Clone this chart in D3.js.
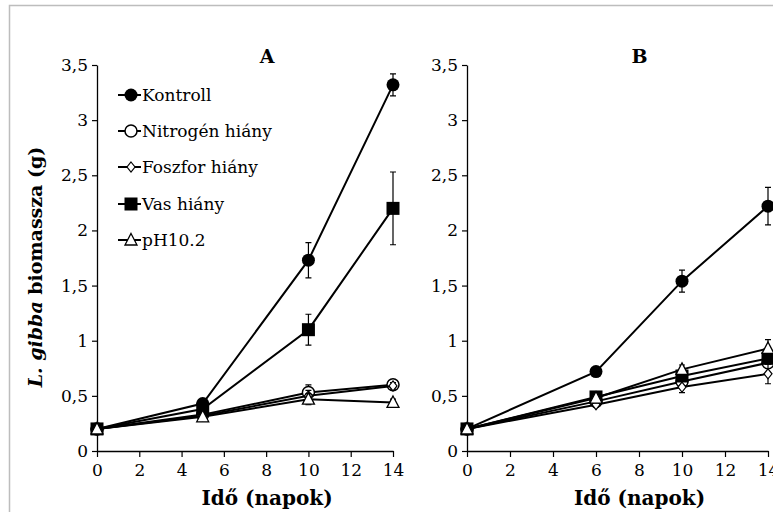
<!DOCTYPE html>
<html><head><meta charset="utf-8">
<script src="https://cdn.jsdelivr.net/npm/d3@7"></script>
<style>body{margin:0;background:#fff}svg{display:block}</style>
</head><body>
<script>
const seriesNames = ["Kontroll","Nitrogén hiány","Foszfor hiány","Vas hiány","pH10.2"];
const symbols = ["circleFill","circleOpen","diamondOpen","squareFill","triangleOpen"];
const daysA = [0,5,10,14];
const daysB = [0,6,10,14];
const valuesA = [
  [0.2,0.43,1.73,3.32],
  [0.2,0.33,0.53,0.60],
  [0.2,0.32,0.50,0.59],
  [0.2,0.38,1.10,2.20],
  [0.2,0.31,0.47,0.44]
];
const errorsA = [
  [0,0.03,0.16,0.10],
  [0,0.02,0.07,0.03],
  [0,0.02,0.05,0.03],
  [0,0.02,0.14,0.33],
  [0,0.02,0.05,0.03]
];
const valuesB = [
  [0.2,0.72,1.54,2.22],
  [0.2,0.45,0.63,0.80],
  [0.2,0.42,0.58,0.70],
  [0.2,0.49,0.68,0.84],
  [0.2,0.48,0.74,0.93]
];
const errorsB = [
  [0,0.02,0.10,0.17],
  [0,0.02,0.04,0.05],
  [0,0.02,0.05,0.09],
  [0,0.02,0.04,0.05],
  [0,0.02,0.04,0.08]
];
const xTicks = [0,2,4,6,8,10,12,14];
const yTicks = [0,0.5,1,1.5,2,2.5,3,3.5];
const panelTitles = ["A","B"];

const FONT = "DejaVu Serif";
const W=773,H=512;
const svg=d3.select("body").append("svg").attr("width",W).attr("height",H).style("font-family",FONT);
svg.append("path").attr("d","M9.5,"+H+"V5.5H"+W).attr("fill","none").attr("stroke","#bdbdbd").attr("stroke-width",1.5);

const fmt = d => String(d).replace(".",",");

function marker(g, type, x, y){
  if(type==="circleFill") g.append("circle").attr("cx",x).attr("cy",y).attr("r",6.5).attr("fill","#000");
  else if(type==="circleOpen") g.append("circle").attr("cx",x).attr("cy",y).attr("r",6).attr("fill","#fff").attr("stroke","#000").attr("stroke-width",1.5);
  else if(type==="diamondOpen") g.append("path").attr("d",`M${x},${y-5}L${x+4},${y}L${x},${y+5}L${x-4},${y}Z`).attr("fill","#fff").attr("stroke","#000").attr("stroke-width",1.2);
  else if(type==="squareFill") g.append("rect").attr("x",x-6.5).attr("y",y-6.5).attr("width",13).attr("height",13).attr("fill","#000");
  else if(type==="triangleOpen") g.append("path").attr("d",`M${x},${y-6.5}L${x+6},${y+5}L${x-6},${y+5}Z`).attr("fill","#fff").attr("stroke","#000").attr("stroke-width",1.3);
}

function panel(x0,x1,days,values,errors,title){
  const x=d3.scaleLinear().domain([0,14]).range([x0,x1]);
  const y=d3.scaleLinear().domain([0,3.5]).range([451,65]);
  const g=svg.append("g");
  const ya=g.append("g").attr("transform",`translate(${x0},0)`).call(d3.axisLeft(y).tickValues(yTicks).tickFormat(fmt).tickSize(5).tickSizeOuter(0));
  const xa=g.append("g").attr("transform",`translate(0,${y(0)})`).call(d3.axisBottom(x).tickValues(xTicks).tickSize(6).tickSizeOuter(0));
  [ya,xa].forEach(a=>{a.attr("font-family",FONT);a.select(".domain").attr("stroke","#000").attr("stroke-width",1.3);a.selectAll("line").attr("stroke","#000").attr("stroke-width",1.2);a.selectAll("text").attr("font-size",17).attr("fill","#000").attr("font-family",FONT);});
  ya.selectAll("text").attr("x",-9);
  xa.selectAll("text").attr("y",13);
  const cx=(x0+x1)/2+22;
  g.append("text").attr("x",cx).attr("y",63).attr("text-anchor","middle").attr("font-size",19).attr("font-weight","bold").attr("font-family",FONT).text(title);
  g.append("text").attr("x",cx).attr("y",505).attr("text-anchor","middle").attr("font-size",20).attr("font-weight","bold").attr("font-family",FONT).text("Idő (napok)");
  const line=d3.line().x((d,i)=>x(days[i])).y(d=>y(d));
  values.forEach((vals,s)=>{
    const sg=g.append("g");
    sg.append("path").attr("d",line(vals)).attr("fill","none").attr("stroke","#000").attr("stroke-width",2);
    vals.forEach((v,i)=>{
      const e=errors[s][i]; if(e>0){
        const px=x(days[i]);
        sg.append("path").attr("d",`M${px},${y(v-e)}V${y(v+e)}M${px-3},${y(v-e)}H${px+3}M${px-3},${y(v+e)}H${px+3}`).attr("stroke","#000").attr("stroke-width",1.2).attr("fill","none");
      }
    });
    vals.forEach((v,i)=>marker(sg,symbols[s],x(days[i]),y(v)));
  });
}
panel(97,393,daysA,valuesA,errorsA,panelTitles[0]);
panel(467,768,daysB,valuesB,errorsB,panelTitles[1]);

const yl=svg.append("text").attr("transform","translate(42,267) rotate(-90)").attr("text-anchor","middle").attr("font-size",19).attr("font-weight","bold").attr("font-family",FONT);
yl.append("tspan").attr("font-style","italic").text("L. gibba");
yl.append("tspan").text(" biomassza (g)");

const ly=[95,131,167,204,240];
seriesNames.forEach((n,i)=>{
  const lg=svg.append("g");
  lg.append("line").attr("x1",118).attr("x2",141).attr("y1",ly[i]).attr("y2",ly[i]).attr("stroke","#000").attr("stroke-width",2);
  marker(lg,symbols[i],131,ly[i]);
  lg.append("text").attr("x",142).attr("y",ly[i]+6).attr("font-size",17).attr("font-family",FONT).text(n);
});
</script>
</body></html>
